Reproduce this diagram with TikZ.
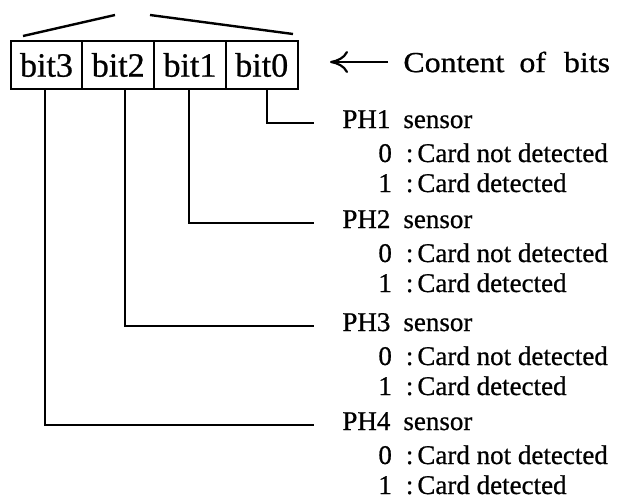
\documentclass[tikz,border=0pt]{standalone}
\usepackage{fontspec}
\setmainfont{Liberation Serif}[FakeBold=0.7]
\newfontfamily\widefont{Liberation Serif}[FakeBold=0.7,FakeStretch=1.1]
\usepackage{tikz}
\usetikzlibrary{arrows.meta,positioning}

\begin{document}
\begin{tikzpicture}[x=0.5pt,y=-0.5pt,
  bitcell/.style={draw,line width=1pt,minimum width=35.875pt,minimum height=24pt,
    inner sep=0pt,outer sep=0pt,font=\fontsize{17}{20}\selectfont},
  sensor/.style={anchor=base west,inner sep=0pt,font=\fontsize{13.5}{16}\selectfont},
  state/.style={anchor=base west,inner sep=0pt,font=\fontsize{13.5}{15}\selectfont},
  wire/.style={line width=1.2pt},
  pointer/.style={-{To[length=9pt,width=11pt]},line width=1.1pt},
]
  \useasboundingbox (0,0) rectangle (620,499);
  \node[bitcell] (b3) at (46.5,65) {bit3};
  \node[bitcell,right=0pt of b3] (b2) {bit2};
  \node[bitcell,right=0pt of b2] (b1) {bit1};
  \node[bitcell,right=0pt of b1] (b0) {bit0};

  \draw[wire] (23,36) -- (115,15);
  \draw[wire] (150,15) -- (293,34);

  \node[sensor,anchor=west,font=\widefont\fontsize{14.5}{16}\selectfont] (content) at (403,62)
    {Content\hspace{7.5pt}of\hspace{9pt}bits};
  \coordinate (tip) at (330,62);
  \draw[pointer,shorten <=7.5pt] (content.west) -- (tip);

  \foreach \n/\y in {1/128,2/228,3/331,4/430}{
    \node[sensor] (ph\n) at (342,\y) {PH\n\hspace{6.5pt}sensor};
    \node[state] (off\n) at (378,\y+34) {0\hspace{7pt}:\hspace{2pt}Card not detected};
    \node[state] (on\n) at (378,\y+64) {1\hspace{7pt}:\hspace{2pt}Card detected};
  }

  \foreach \b/\n/\dx in {0/1/2.75,1/2/-0.5,2/3/3.5,3/4/-0.75}
    \draw[wire,shorten >=14pt] ([xshift=\dx pt]b\b.south) |- ([yshift=2.5pt]ph\n.base west);
\end{tikzpicture}
\end{document}
